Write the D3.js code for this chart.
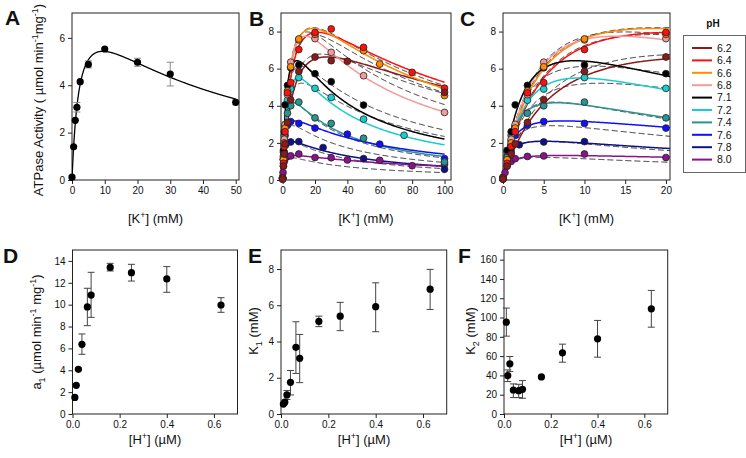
<!DOCTYPE html>
<html><head><meta charset="utf-8">
<script src="https://cdn.jsdelivr.net/npm/d3@7"></script>
<style>
body{margin:0;background:#fff}
svg text{font-family:"Liberation Sans",Arial,Helvetica,sans-serif;fill:#111}
</style></head>
<body><svg id="chart" width="746" height="458"></svg>
<script>
// ---------- Panel A data ----------
const kA = [0, 0.5, 1, 1.5, 2.5, 5, 10, 20, 30, 50];
const vA = [0.12, 1.4, 2.52, 3.07, 4.15, 4.88, 5.53, 4.97, 4.47, 3.28];
const errA = [0, 0, 0, 0.2, 0, 0.15, 0, 0.17, 0.5, 0.1];
const fitA = [8.2, 2.4, 37]; // a1, K1, K2 of the panel-A fit line

// ---------- pH series ----------
const phLabels = ["6.2","6.4","6.6","6.8","7.1","7.2","7.4","7.6","7.8","8.0"];
const phColors = ["#8b1a1a","#ff1010","#ff8c00","#f59a9a","#000000","#1ccccc","#2a9490","#1010ff","#10108a","#8a128a"];
const hConc = [0.63, 0.40, 0.25, 0.16, 0.079, 0.063, 0.040, 0.025, 0.016, 0.010];

// fitted parameters (panels D, E, F) with error bar ends
const a1 = [9.97, 12.35, 12.93, 13.41, 10.88, 9.79, 6.37, 4.09, 2.62, 1.52];
const a1Hi = [10.64, 13.48, 13.69, 13.78, 12.96, 11.5, 7.32, 4.2, 2.62, 1.52];
const a1Lo = [9.30, 11.13, 12.16, 13.08, 8.84, 8.08, 5.46, 4.0, 2.62, 1.52];
const k1 = [6.89, 5.92, 5.4, 5.11, 3.07, 3.68, 1.75, 1.05, 0.65, 0.55];
const k1Hi = [7.98, 7.24, 6.16, 5.4, 4.39, 5.09, 2.4, 1.3, 0.65, 0.55];
const k1Lo = [5.77, 4.54, 4.6, 4.82, 1.73, 2.24, 1.05, 0.8, 0.65, 0.55];
const k2 = [109, 77.9, 63.4, 38.4, 25.6, 24.2, 24.9, 52, 39.8, 95.2];
const k2Hi = [128.1, 97, 72.4, 38.4, 34.6, 30.8, 31.2, 59.6, 45.7, 109.8];
const k2Lo = [90, 58.9, 53.7, 38.4, 16.3, 17, 17, 44, 33.6, 80.7];

// alternative (dashed) fit parameters per pH
const dashA = [10.8, 12.8, 12.6, 13.3, 9.5, 8.3, 6.6, 4.1, 2.8, 1.54];
const dashK1 = [7, 6, 5, 5, 3, 3.5, 1.8, 1.2, 0.8, 0.6];
const dashK2 = [80, 60, 70, 45, 40, 40, 22, 30, 28, 35];

// measured points of panels B / C per pH
const ptsK = [
  [0, 0.5, 1, 1.5, 3, 5, 10, 20, 30, 40, 100],
  [0, 0.5, 1, 1.5, 3, 5, 10, 20, 30, 50, 80, 100],
  [0, 0.5, 1, 1.5, 3, 5, 10, 20, 50, 60, 100],
  [0, 0.5, 1, 1.5, 3, 5, 10, 20, 30, 50, 100],
  [0, 0.5, 1, 1.5, 3, 5, 10, 20, 30, 50],
  [0, 0.5, 1, 1.5, 3, 5, 10, 20, 30, 50, 75],
  [0, 0.5, 1, 1.5, 3, 5, 10, 20, 30, 50, 100],
  [0, 0.5, 1, 1.5, 3, 5, 10, 20, 40, 60, 100],
  [0, 0.5, 1, 2, 5, 10, 25, 50, 100],
  [0, 0.25, 0.5, 1, 1.5, 3, 5, 10, 20, 30, 40, 60, 80, 100]
];
const ptsV = [
  [0.05, 0.75, 1.4, 1.95, 3.1, 4.32, 5.85, 6.63, 6.43, 6.4, 4.72],
  [0.1, 0.9, 1.8, 2.6, 4.7, 5.25, 7.03, 7.95, 8.14, 7.15, 5.8, 4.95],
  [0.1, 1.1, 2.0, 2.8, 4.8, 6.1, 7.6, 7.85, 6.97, 6.25, 4.55],
  [0.1, 1.1, 2.2, 3.0, 4.6, 6.35, 7.55, 7.62, 6.88, 5.62, 3.64],
  [0.1, 1.6, 2.6, 4.05, 5.1, 6.05, 6.2, 5.73, 5.3, 4.04],
  [0.05, 1.2, 2.1, 2.9, 4.3, 4.9, 5.52, 4.94, 4.45, 3.28, 2.41],
  [0.05, 1.5, 2.4, 2.9, 3.6, 4.0, 4.2, 3.35, 3.05, 2.25, 0.97],
  [0.1, 1.3, 1.9, 2.4, 2.95, 3.15, 3.05, 2.8, 2.47, 1.93, 1.15],
  [0.1, 1.1, 1.5, 1.9, 2.05, 2.07, 1.75, 1.15, 0.58],
  [0.15, 0.4, 0.75, 1.0, 1.15, 1.27, 1.3, 1.4, 1.21, 1.2, 1.08, 1.06, 0.77, 0.85]
];

// ---------- tick values ----------
const ticksA_x = [0, 10, 20, 30, 40, 50], ticksA_y = [0, 2, 4, 6];
const ticksB_x = [0, 20, 40, 60, 80, 100], ticksB_y = [0, 2, 4, 6, 8];
const ticksC_x = [0, 5, 10, 15, 20], ticksC_y = [0, 2, 4, 6, 8];
const ticksH = [0, 0.2, 0.4, 0.6];
const ticksD_y = [0, 2, 4, 6, 8, 10, 12, 14];
const ticksE_y = [0, 2, 4, 6, 8];
const ticksF_y = [0, 20, 40, 60, 80, 100, 120, 140, 160];

// ---------- drawing ----------
const svg = d3.select("#chart");
const model = (a, K1, K2, K) => a * K / (K1 + K + K * K / K2);
const kGrid = d3.range(0, 2, 0.02).concat(d3.range(2, 20, 0.1), d3.range(20, 100, 0.5), [100]);

function styleAxis(sel) {
  sel.select(".domain").remove();
  sel.selectAll(".tick line").attr("stroke", "#222");
  sel.selectAll(".tick text").attr("font-size", "10px").attr("fill", "#222")
     .attr("font-family", '"Liberation Sans",Arial,sans-serif');
}
let clipN = 0;
function panel(o) {
  const x = d3.scaleLinear().domain(o.xDom).range([o.x0, o.x1]);
  const y = d3.scaleLinear().domain(o.yDom).range([o.y1, o.y0]);
  const g = svg.append("g");
  const id = "clip" + (clipN++);
  svg.append("clipPath").attr("id", id).append("rect")
    .attr("x", o.x0).attr("y", o.y0).attr("width", o.x1 - o.x0).attr("height", o.y1 - o.y0);
  g.append("g").attr("transform", `translate(0,${o.y1})`)
    .call(d3.axisBottom(x).tickValues(o.xt).tickFormat(o.xf || d3.format("d")).tickSize(4).tickPadding(3)).call(styleAxis);
  g.append("g").attr("transform", `translate(${o.x0},0)`)
    .call(d3.axisLeft(y).tickValues(o.yt).tickFormat(o.yf || d3.format("d")).tickSize(4).tickPadding(3)).call(styleAxis);
  g.append("rect").attr("x", o.x0).attr("y", o.y0).attr("width", o.x1 - o.x0).attr("height", o.y1 - o.y0)
    .attr("fill", "none").attr("stroke", "#222").attr("stroke-width", 1);
  const plot = g.append("g");
  const clipped = plot.append("g").attr("clip-path", `url(#${id})`);
  return { x, y, g, plot, clipped };
}
function letter(t, x, y) {
  svg.append("text").attr("x", x).attr("y", y).attr("font-size", "21px").attr("font-weight", "bold").text(t);
}
function xTitle(parts, cx, y) {
  const t = svg.append("text").attr("x", cx).attr("y", y).attr("text-anchor", "middle").attr("font-size", "13px");
  addParts(t, parts);
}
function yTitle(parts, x, cy) {
  const t = svg.append("text").attr("transform", `translate(${x},${cy}) rotate(-90)`).attr("text-anchor", "middle").attr("font-size", "13px");
  addParts(t, parts);
}
function addParts(t, parts) {
  let pending = 0;
  parts.forEach(p => {
    if (typeof p === "string") {
      t.append("tspan").attr("dy", pending || null).text(p);
      pending = 0;
      return;
    }
    const dy = p.sup ? -5 : 4;
    t.append("tspan").attr("dy", pending + dy).attr("font-size", "9px").text(p.sup || p.sub);
    pending = -dy;
  });
}
function line(p, data, color, width, dash) {
  p.append("path").datum(data)
    .attr("d", d3.line().x(d => d[0]).y(d => d[1]))
    .attr("fill", "none").attr("stroke", color).attr("stroke-width", width)
    .attr("stroke-dasharray", dash || null);
}
function errBars(p, xs, lo, hi, color) {
  xs.forEach((xv, i) => {
    if (Math.abs(hi[i] - lo[i]) < 0.5) return;
    p.append("line").attr("x1", xv).attr("x2", xv).attr("y1", lo[i]).attr("y2", hi[i]).attr("stroke", color);
    [lo[i], hi[i]].forEach(yy => p.append("line").attr("x1", xv - 3.5).attr("x2", xv + 3.5).attr("y1", yy).attr("y2", yy).attr("stroke", color));
  });
}

// ---- Panel A ----
const A = panel({ x0: 72, x1: 239, y0: 13, y1: 180, xDom: [0, 51], yDom: [0, 7.05], xt: ticksA_x, yt: ticksA_y });
line(A.clipped, d3.range(0, 50.01, 0.1).map(k => [A.x(k), A.y(model(fitA[0], fitA[1], fitA[2], k))]), "#000", 1.3);
errBars(A.plot, kA.map(k => A.x(k)), vA.map((v, i) => A.y(v - errA[i])), vA.map((v, i) => A.y(v + errA[i])), "#888");
A.plot.selectAll("circle").data(kA).join("circle").attr("cx", d => A.x(d)).attr("cy", (d, i) => A.y(vA[i])).attr("r", 3.6).attr("fill", "#000");
letter("A", 5, 25);
xTitle(["[K", { sup: "+" }, "] (mM)"], 155.5, 223);
yTitle(["ATPase Activity ( \u00b5mol min", { sup: "-1" }, "mg", { sup: "-1" }, ")"], 43, 100);

// ---- Panels B and C ----
function kinetic(P, kMax) {
  const grid = kGrid.filter(k => k <= kMax);
  phLabels.forEach((_, i) => {
    line(P.clipped, grid.map(k => [P.x(k), P.y(model(dashA[i], dashK1[i], dashK2[i], k))]), "#333", 1, "6,3");
  });
  phLabels.forEach((_, i) => {
    line(P.clipped, grid.map(k => [P.x(k), P.y(model(a1[i], k1[i], k2[i], k))]), phColors[i], 1.5);
  });
  for (let i = phLabels.length - 1; i >= 0; i--) {
    const pts = ptsK[i].map((k, j) => [k, ptsV[i][j]]).filter(d => d[0] <= kMax);
    P.plot.append("g").selectAll("circle").data(pts).join("circle")
      .attr("cx", d => P.x(d[0])).attr("cy", d => P.y(d[1])).attr("r", 3.4)
      .attr("fill", phColors[i]).attr("stroke", "#222").attr("stroke-width", 0.8);
  }
}
const B = panel({ x0: 281, x1: 451, y0: 13, y1: 180, xDom: [-1, 104], yDom: [0, 9], xt: ticksB_x, yt: ticksB_y });
kinetic(B, 100);
letter("B", 249, 26);
xTitle(["[K", { sup: "+" }, "] (mM)"], 366, 223);

const C = panel({ x0: 503, x1: 670, y0: 13, y1: 180, xDom: [0, 20.5], yDom: [0, 9], xt: ticksC_x, yt: ticksC_y });
kinetic(C, 21);
letter("C", 460, 26);
xTitle(["[K", { sup: "+" }, "] (mM)"], 586.5, 223);

// legend
svg.append("text").attr("x", 713).attr("y", 27).attr("text-anchor", "middle").attr("font-size", "10px").attr("font-weight", "bold").text("pH");
svg.append("rect").attr("x", 683.5).attr("y", 35.5).attr("width", 62).attr("height", 137).attr("fill", "none").attr("stroke", "#666");
phLabels.forEach((lab, i) => {
  const yy = 48 + i * 12.4;
  svg.append("line").attr("x1", 692).attr("x2", 712).attr("y1", yy).attr("y2", yy).attr("stroke", phColors[i]).attr("stroke-width", 2);
  svg.append("text").attr("x", 717).attr("y", yy + 3.8).attr("font-size", "10.5px").text(lab);
});

// ---- Panels D, E, F ----
function paramPanel(o, vals, lo, hi) {
  const P = panel(Object.assign({ yDom: o.yDom, xDom: [0, 0.7], xt: ticksH, xf: d3.format(".1f") }, o));
  errBars(P.plot, hConc.map(h => P.x(h)), lo.map(v => P.y(v)), hi.map(v => P.y(v)), "#444");
  P.plot.selectAll("circle.pt").data(hConc).join("circle").attr("class", "pt")
    .attr("cx", d => P.x(d)).attr("cy", (d, i) => P.y(vals[i])).attr("r", 3.6).attr("fill", "#000");
  return P;
}
paramPanel({ x0: 72.5, x1: 237.5, y0: 250, y1: 414, yDom: [0, 15], yt: ticksD_y }, a1, a1Lo, a1Hi);
letter("D", 3, 263);
xTitle(["[H", { sup: "+" }, "] (\u00b5M)"], 155, 444);
yTitle(["a", { sub: "1" }, " (\u00b5mol min", { sup: "-1" }, " mg", { sup: "-1" }, ")"], 41, 332);

paramPanel({ x0: 281, x1: 446.7, y0: 250, y1: 414, yDom: [0, 9.05], yt: ticksE_y }, k1, k1Lo, k1Hi);
letter("E", 248, 263);
xTitle(["[H", { sup: "+" }, "] (\u00b5M)"], 364, 444);
yTitle(["K", { sub: "1" }, " (mM)"], 258, 331);

paramPanel({ x0: 504, x1: 667.7, y0: 250, y1: 414, yDom: [0, 170], yt: ticksF_y }, k2, k2Lo, k2Hi);
letter("F", 458, 263);
xTitle(["[H", { sup: "+" }, "] (\u00b5M)"], 586, 444);
yTitle(["K", { sub: "2" }, " (mM)"], 475, 331);
</script>
</body></html>
